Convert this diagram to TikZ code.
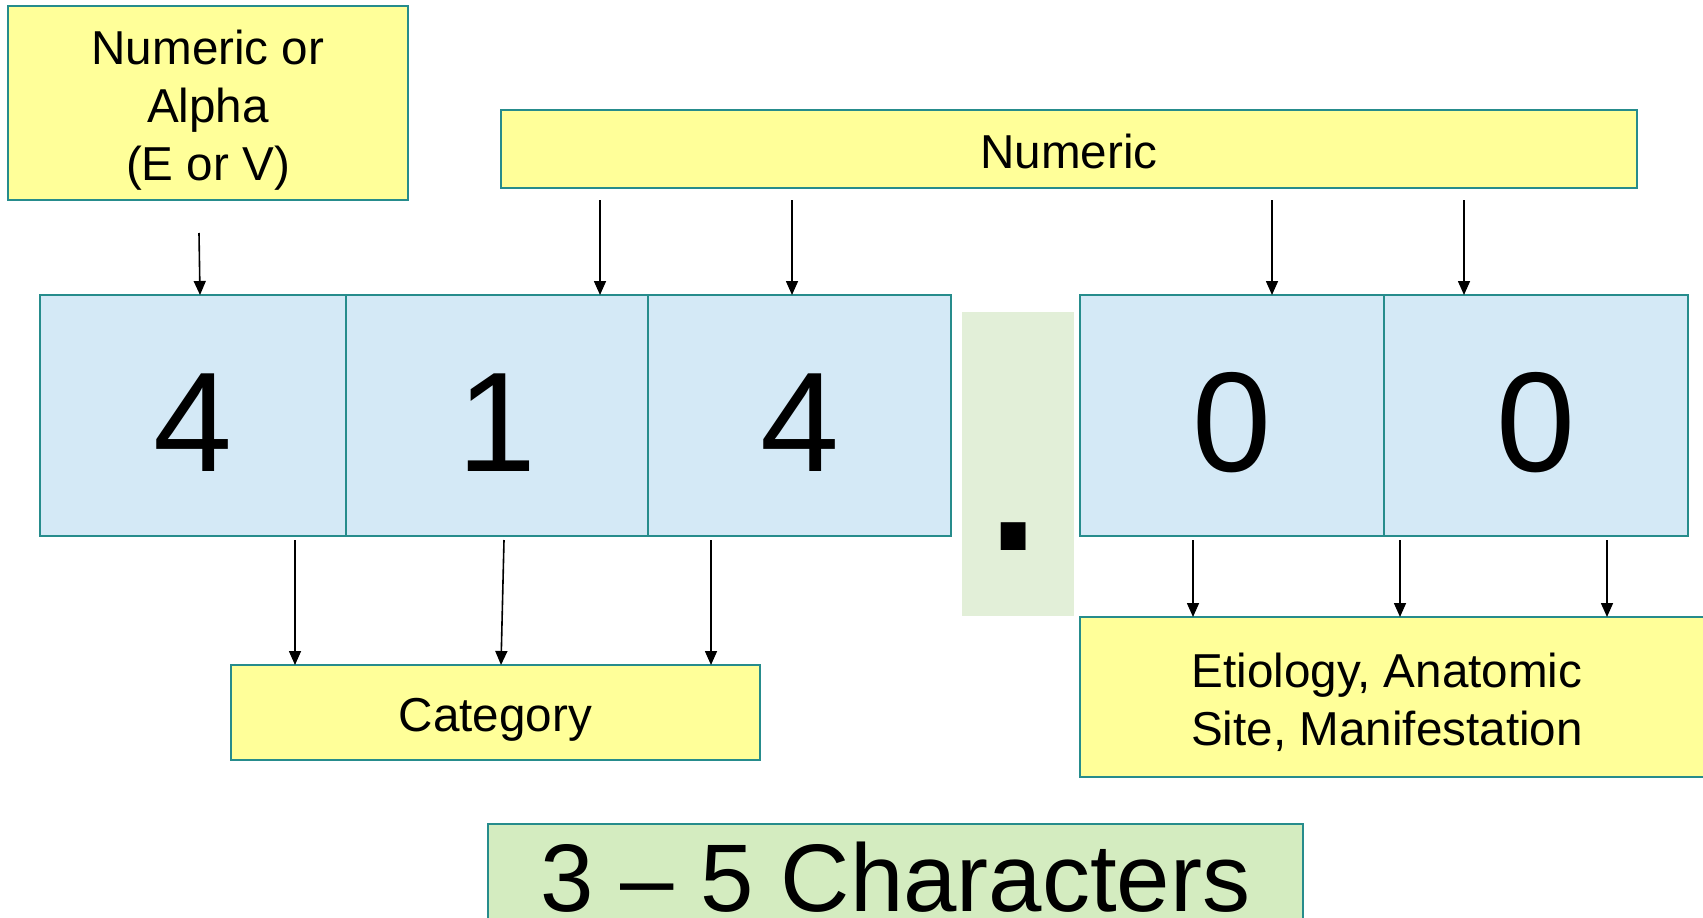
\documentclass[tikz,border=0pt]{standalone}
\usepackage{fontspec}
\setmainfont{Liberation Sans}
\usetikzlibrary{arrows.meta}
\definecolor{edge}{RGB}{38,140,140}
\definecolor{yel}{RGB}{255,255,153}
\definecolor{cell}{RGB}{212,233,246}
\definecolor{sepfill}{RGB}{226,239,216}
\definecolor{foot}{RGB}{212,236,192}
% lower a line of text without changing the space it claims
\newcommand\lowered[2]{\raisebox{-#1}[\height][\depth]{#2}}
\begin{document}
\begin{tikzpicture}[x=1pt,y=-1pt,
  labelbox/.style={draw=edge, line width=2pt, fill=yel, inner sep=0pt, outer sep=0pt,
    align=center, font=\fontsize{47.6}{58}\selectfont},
  digit/.style={draw=edge, line width=2pt, fill=cell, inner sep=0pt, outer sep=0pt,
    minimum height=241pt, font=\fontsize{142}{160}\selectfont},
  pointer/.style={-{Triangle[length=14pt,width=12pt]}, line width=1.6pt}]
\useasboundingbox (0,0) rectangle (1703,918);

% label boxes above and below the code
\node[labelbox, minimum width=400pt, minimum height=194pt] (alpha) at (208,103)
  {\lowered{7pt}{Numeric or}\\\lowered{7pt}{Alpha}\\\lowered{7pt}{(E or V)}};
\node[labelbox, minimum width=1136pt, minimum height=78pt] (numeric) at (1069,149)
  {\lowered{2pt}{Numeric}};
\node[labelbox, minimum width=529pt, minimum height=95pt] (category) at (495.5,712.5)
  {\lowered{7pt}{Category}};
\node[labelbox, minimum width=630pt, minimum height=160pt] (etiology) at (1395,697)
  {\lowered{5pt}{Etiology, Anatomic\hspace*{16pt}}\\\lowered{5pt}{Site, Manifestation\hspace*{16pt}}};

% the code itself, one cell per character
\node[digit, minimum width=306pt] (d1) at (193,415.5) {\lowered{7pt}{4}};
\node[digit, minimum width=302pt] (d2) at (497,415.5) {\lowered{7pt}{1}};
\node[digit, minimum width=303pt] (d3) at (799.5,415.5) {\lowered{7pt}{4}};
\node[fill=sepfill, inner sep=0pt, minimum width=112pt, minimum height=304pt] (sep) at (1018,464) {};
\node[font=\fontsize{260}{260}\selectfont, anchor=base, inner sep=0pt] (dot) at (1013.5,550) {.};
\node[digit, minimum width=304pt] (d4) at (1232,415.5) {\lowered{7pt}{0}};
\node[digit, minimum width=304pt] (d5) at (1536,415.5) {\lowered{7pt}{0}};

% length caption
\node[draw=edge, line width=2pt, fill=foot, inner sep=0pt, minimum width=815pt, minimum height=106pt,
  font=\fontsize{96}{110}\selectfont] (chars) at (895.5,877) {3 -- 5 Characters};

% arrow start points
\coordinate (s0) at (199,233);
\coordinate (s1) at (600,200);
\coordinate (s2) at (792,200);
\coordinate (s3) at (1272,200);
\coordinate (s4) at (1464,200);
\coordinate (b1) at (295,540);
\coordinate (b2) at (504,540);
\coordinate (b3) at (711,540);
\coordinate (b4) at (1193,540);
\coordinate (b5) at (1400,540);
\coordinate (b6) at (1607,540);

\draw[pointer] (s0) -- (200,0 |- d1.north);
\draw[pointer] (s1) -- (s1 |- d2.north);
\draw[pointer] (s2) -- (s2 |- d3.north);
\draw[pointer] (s3) -- (s3 |- d4.north);
\draw[pointer] (s4) -- (s4 |- d5.north);

\draw[pointer] (b1) -- (b1 |- category.north);
\draw[pointer] (b2) -- (501,0 |- category.north);
\draw[pointer] (b3) -- (b3 |- category.north);
\draw[pointer] (b4) -- (b4 |- etiology.north);
\draw[pointer] (b5) -- (b5 |- etiology.north);
\draw[pointer] (b6) -- (b6 |- etiology.north);
\end{tikzpicture}
\end{document}
